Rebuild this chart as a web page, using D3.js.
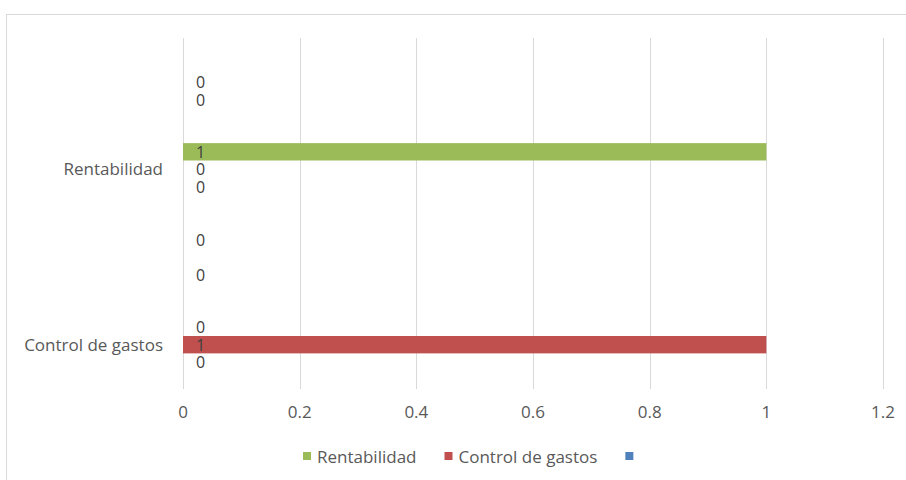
<!DOCTYPE html>
<html>
<head>
<meta charset="utf-8">
<script src="https://cdn.jsdelivr.net/npm/d3@7"></script>
<style>
    body { margin: 0; background: #fff; }
    text { font-family: "Open Sans", sans-serif; font-size: 17px; fill: #595959; }
    .data-label { font-size: 16px; fill: #404040; }
</style>
</head>
<body>
<svg id="chart" width="906" height="480"></svg>
<script>
// Categories, top to bottom as drawn
const categories = ["Rentabilidad", "Control de gastos"];

// Series in sheet order (first series sits at the bottom of each cluster)
const seriesNames = ["", "Control de gastos", "Rentabilidad", "", "", "", "", ""];
const valuesRentabilidad = [0, 0, 1, null, null, 0, 0, null];
const valuesControl = [0, 1, 0, null, null, 0, null, 0];

const xTicks = [0, 0.2, 0.4, 0.6, 0.8, 1, 1.2];
const legendOrder = [2, 1, 0];

const colors = ["#4F81BD", "#C0504D", "#9BBB59", "#8064A2", "#4BACC6", "#F79646", "#2C4D75", "#772C2A"];

const valuesByCategory = {
    "Rentabilidad": valuesRentabilidad,
    "Control de gastos": valuesControl
};

const svg = d3.select("#chart");
const plot = { left: 183, right: 883, top: 38, bottom: 389 };

// Chart area border
svg.append("rect")
    .attr("x", 6.5).attr("y", 14.5)
    .attr("width", 1000).attr("height", 1000)
    .attr("fill", "none")
    .attr("stroke", "#D9D9D9");

const x = d3.scaleLinear()
    .domain([0, 1.2])
    .range([plot.left, plot.right]);

const y = d3.scaleBand()
    .domain(categories)
    .range([plot.top, plot.bottom])
    .paddingInner(0.208)
    .paddingOuter(0.104);

const seriesIdx = d3.range(seriesNames.length).reverse();
const inner = d3.scaleBand()
    .domain(seriesIdx)
    .range([0, y.bandwidth()]);

// Gridlines
svg.append("g")
    .selectAll("line")
    .data(xTicks)
    .join("line")
    .attr("x1", d => Math.round(x(d)) + 0.5)
    .attr("x2", d => Math.round(x(d)) + 0.5)
    .attr("y1", plot.top)
    .attr("y2", plot.bottom)
    .attr("stroke", "#D9D9D9");

// X tick labels
svg.append("g")
    .selectAll("text")
    .data(xTicks)
    .join("text")
    .attr("x", d => x(d))
    .attr("y", 411)
    .attr("text-anchor", "middle")
    .attr("dominant-baseline", "central")
    .text(d => d);

// Category labels
svg.append("g")
    .selectAll("text")
    .data(categories)
    .join("text")
    .attr("x", 163)
    .attr("y", d => y(d) + y.bandwidth() * 0.81)
    .attr("text-anchor", "end")
    .attr("dominant-baseline", "central")
    .text(d => d);

// Bars and data labels
categories.forEach(cat => {
    const g = svg.append("g").attr("transform", `translate(0,${y(cat)})`);
    valuesByCategory[cat].forEach((v, i) => {
        if (v === null) return;
        if (v > 0) {
            g.append("rect")
                .attr("x", x(0))
                .attr("y", inner(i))
                .attr("width", x(v) - x(0))
                .attr("height", inner.bandwidth())
                .attr("fill", colors[i]);
        }
        g.append("text")
            .attr("class", "data-label")
            .attr("x", x(0) + 13)
            .attr("y", inner(i) + inner.bandwidth() / 2)
            .attr("dominant-baseline", "central")
            .text(v);
    });
});

// Legend
const legend = svg.append("g");
let lx = 303;
legendOrder.forEach(i => {
    legend.append("rect")
        .attr("x", lx).attr("y", 452)
        .attr("width", 8).attr("height", 8)
        .attr("fill", colors[i]);
    const t = legend.append("text")
        .attr("x", lx + 14)
        .attr("y", 456)
        .attr("dominant-baseline", "central")
        .text(seriesNames[i]);
    lx += 14 + t.node().getComputedTextLength() + 28;
});
</script>
</body>
</html>
